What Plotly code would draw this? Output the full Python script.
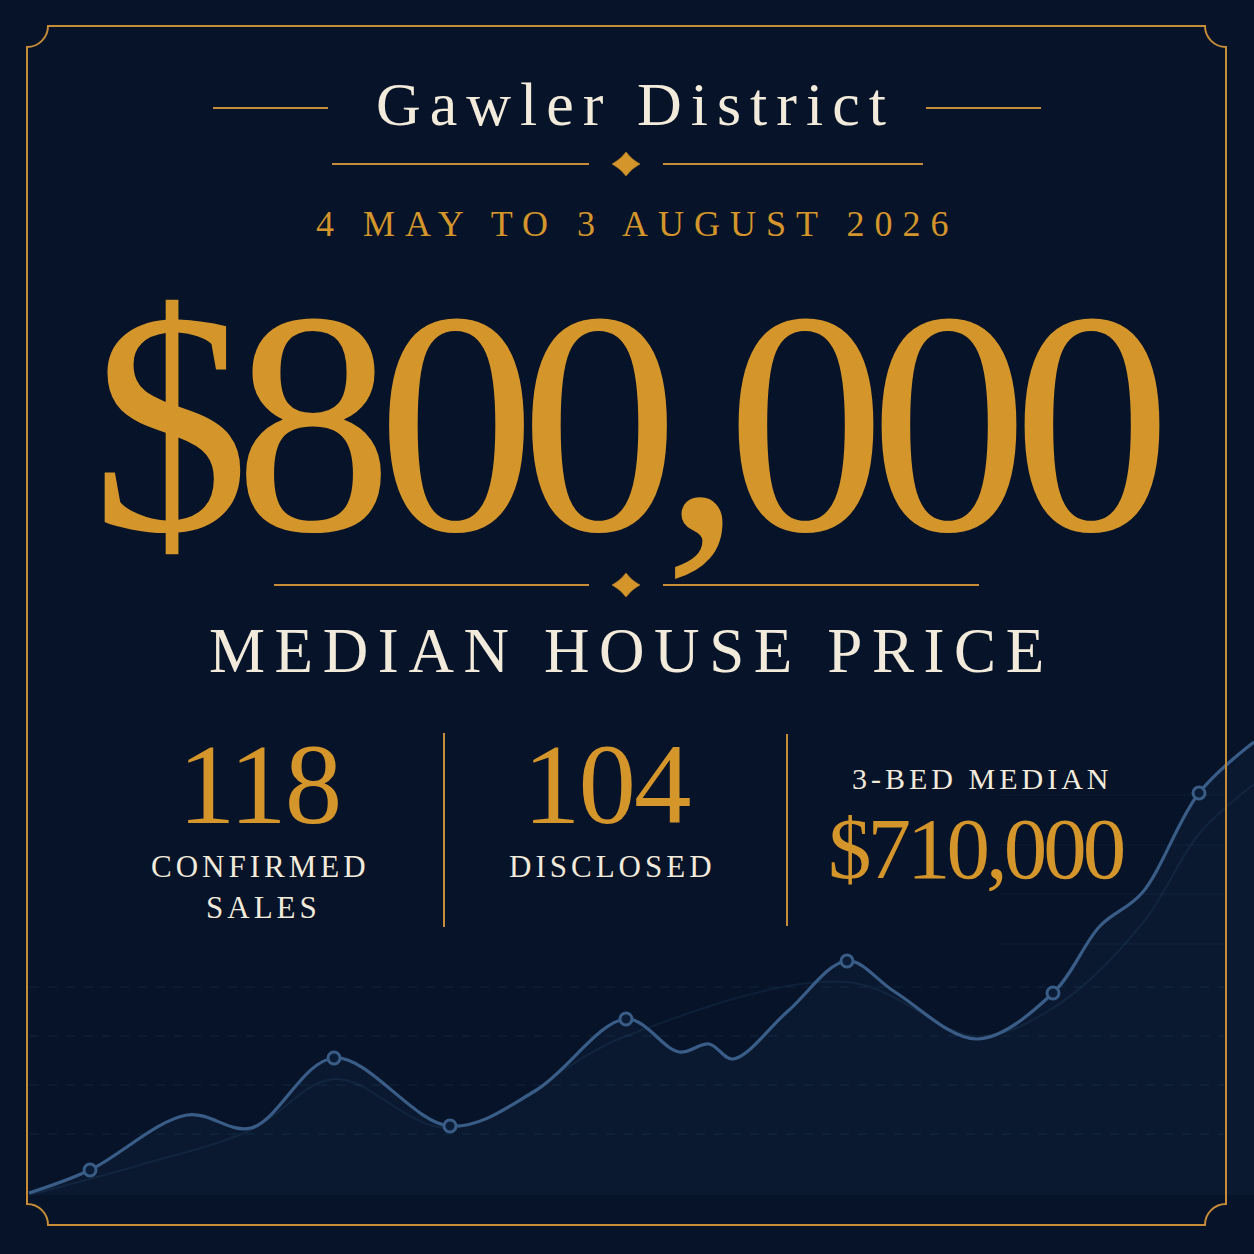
import plotly.graph_objects as go

W = H = 1254

# ---- data -------------------------------------------------------------
# background trend line (x: position index, y: price index)
trend_x = [2.9, 9.0, 18.7, 25.1, 33.4, 45.0, 53.5, 62.6, 67.9, 70.9, 73.3,
           78.8, 84.7, 89.5, 97.7, 105.3, 110.0, 114.2, 119.9, 125.4]
trend_y = [6.1, 8.4, 13.9, 12.6, 19.6, 12.8, 16.3, 23.5, 20.2, 21.0, 19.5,
           24.3, 29.3, 26.2, 21.5, 26.1, 32.8, 36.1, 46.1, 51.2]
marker_x = [9.0, 33.4, 45.0, 62.6, 84.7, 105.3, 119.9]
marker_y = [8.4, 19.6, 12.8, 23.5, 29.3, 26.1, 46.1]
shadow_x = [2.9, 14.0, 25.1, 33.4, 45.0, 62.6, 84.7, 97.7, 105.3, 114.2, 119.9, 125.4]
shadow_y = [5.9, 8.9, 12.4, 17.5, 12.6, 21.8, 27.2, 21.8, 24.6, 33.0, 42.0, 47.0]
fill_base = 5.9
grid_low = [26.7, 21.8, 16.9, 12.0]
grid_high = [45.9, 40.9, 36.0, 31.0]

title = "Gawler District"
period = "4 MAY TO 3 AUGUST 2026"
headline_value = "$800,000"
headline_label = "MEDIAN HOUSE PRICE"
stat_values = ["118", "104"]
stat_labels = ["CONFIRMED", "SALES", "DISCLOSED"]
bed3_label = "3-BED MEDIAN"
bed3_value = "$710,000"

# ---- style ------------------------------------------------------------
BG = "#061328"
GOLD = "#d4952b"
GOLD_LINE = "#c68c38"
CREAM = "#f2eadb"
BLUE = "#3a5d87"
SERIF = "Liberation Serif, Times New Roman, serif"


def X(p):
    return p / W


def Y(p):
    return 1 - p / H


fig = go.Figure()

# fill baseline
fig.add_trace(go.Scatter(x=[trend_x[0], trend_x[-1]], y=[fill_base, fill_base],
                         mode="lines", line=dict(width=0), hoverinfo="skip",
                         showlegend=False))
fig.add_trace(go.Scatter(x=trend_x, y=trend_y, mode="lines",
                         line=dict(color="rgba(0,0,0,0)", width=0, shape="spline"),
                         fill="tonexty", fillcolor="rgba(52,86,130,0.09)",
                         hoverinfo="skip", showlegend=False))
# faint shadow curve
fig.add_trace(go.Scatter(x=shadow_x, y=shadow_y, mode="lines",
                         line=dict(color="rgba(58,93,135,0.18)", width=2, shape="spline"),
                         hoverinfo="skip", showlegend=False))
# main line
fig.add_trace(go.Scatter(x=trend_x, y=trend_y, mode="lines",
                         line=dict(color=BLUE, width=3.2, shape="spline"),
                         hoverinfo="skip", showlegend=False))
fig.add_trace(go.Scatter(x=marker_x, y=marker_y, mode="markers",
                         marker=dict(size=12, color="#0b1d36",
                                     line=dict(color=BLUE, width=3)),
                         hoverinfo="skip", showlegend=False, cliponaxis=False))

shapes = []

# grid lines
for g in grid_low:
    shapes.append(dict(type="line", xref="paper", yref="y", x0=X(30), x1=X(1224),
                       y0=g, y1=g, layer="below",
                       line=dict(color="rgba(70,100,140,0.22)", width=1, dash="dash")))
for g in grid_high:
    shapes.append(dict(type="line", xref="paper", yref="y", x0=X(1000), x1=X(1224),
                       y0=g, y1=g, layer="below",
                       line=dict(color="rgba(70,100,140,0.14)", width=1)))

# frame with concave corners
L, T, R, B, r = 27, 26, 1226, 1225, 21
k = 0.552 * r


def pt(x, y):
    return f"{X(x):.5f},{Y(y):.5f}"


frame = (
    f"M {pt(L + r, T)} L {pt(R - r, T)} "
    f"C {pt(R - r, T + k)} {pt(R - k, T + r)} {pt(R, T + r)} "
    f"L {pt(R, B - r)} "
    f"C {pt(R - k, B - r)} {pt(R - r, B - k)} {pt(R - r, B)} "
    f"L {pt(L + r, B)} "
    f"C {pt(L + r, B - k)} {pt(L + k, B - r)} {pt(L, B - r)} "
    f"L {pt(L, T + r)} "
    f"C {pt(L + k, T + r)} {pt(L + r, T + k)} {pt(L + r, T)} Z"
)
shapes.append(dict(type="path", xref="paper", yref="paper", path=frame,
                   line=dict(color=GOLD_LINE, width=2), fillcolor="rgba(0,0,0,0)",
                   layer="above"))


def hline(x0, x1, y, w=2):
    shapes.append(dict(type="line", xref="paper", yref="paper", x0=X(x0), x1=X(x1),
                       y0=Y(y), y1=Y(y), line=dict(color=GOLD_LINE, width=w)))


def vline(x, y0, y1):
    shapes.append(dict(type="line", xref="paper", yref="paper", x0=X(x), x1=X(x),
                       y0=Y(y0), y1=Y(y1), line=dict(color=GOLD_LINE, width=2)))


def diamond(cx, cy, hw=14, hh=12):
    path = (f"M {pt(cx, cy - hh)} Q {pt(cx + 5.5, cy - 4.5)} {pt(cx + hw, cy)} "
            f"Q {pt(cx + 5.5, cy + 4.5)} {pt(cx, cy + hh)} "
            f"Q {pt(cx - 5.5, cy + 4.5)} {pt(cx - hw, cy)} "
            f"Q {pt(cx - 5.5, cy - 4.5)} {pt(cx, cy - hh)} Z")
    shapes.append(dict(type="path", xref="paper", yref="paper", path=path,
                       fillcolor=GOLD, line=dict(color=GOLD, width=0.5)))


hline(213, 328, 108)
hline(926, 1041, 108)
hline(332, 589, 164)
hline(663, 923, 164)
diamond(626, 164)
hline(274, 589, 585)
hline(663, 979, 585)
diamond(626, 585)
vline(444, 733, 927)
vline(787, 734, 926)

annotations = []


def text(s, x, y, size, color, ls=0):
    t = f'<span style="letter-spacing:{ls}px">{s}</span>' if ls else s
    annotations.append(dict(text=t, x=X(x + ls / 2), y=Y(y), xref="paper", yref="paper",
                            xanchor="center", yanchor="middle", showarrow=False,
                            font=dict(family=SERIF, size=size, color=color)))


text(title, 631, 104, 62, CREAM, 9)
text(period, 632, 224, 36, GOLD, 10)
text(headline_value, 634, 423, 318, GOLD, -16)
text(headline_label, 627, 651, 63, CREAM, 9.6)
text(stat_values[0], 260, 784, 115, GOLD, -2)
text(stat_values[1], 607, 784, 115, GOLD, -2)
text(stat_labels[0], 258, 866, 31, CREAM, 4)
text(stat_labels[1], 261, 907, 31, CREAM, 4)
text(stat_labels[2], 610, 866, 31, CREAM, 4)
text(bed3_label, 980, 778, 30, CREAM, 4)
text(bed3_value, 978, 848, 87, GOLD, -4)

fig.update_layout(
    width=W, height=H,
    margin=dict(l=0, r=0, t=0, b=0),
    paper_bgcolor=BG, plot_bgcolor=BG,
    xaxis=dict(range=[0, W / 10], visible=False, fixedrange=True),
    yaxis=dict(range=[0, H / 10], visible=False, fixedrange=True),
    shapes=shapes, annotations=annotations, showlegend=False,
)

fig.write_html("out.html", config={"displayModeBar": False, "staticPlot": True},
               post_script="document.body.style.margin='0';document.body.style.overflow='hidden';document.body.style.background='#061328';")
